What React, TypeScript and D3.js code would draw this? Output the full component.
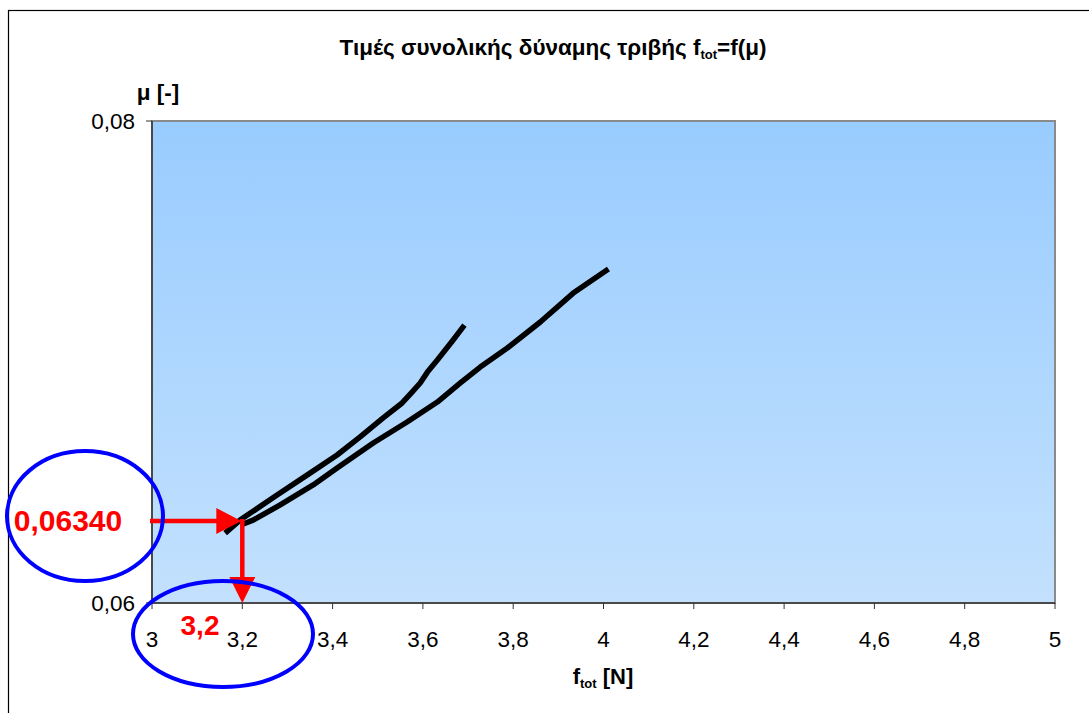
import React from "react";
import * as d3 from "d3";

// Friction force f_tot versus friction coefficient μ — two measured runs
const runA_f = [3.162, 3.195, 3.277, 3.35, 3.41, 3.461, 3.512, 3.554, 3.576, 3.594, 3.61, 3.632, 3.667, 3.692];
const runA_mu = [0.0629, 0.06344, 0.06448, 0.06539, 0.06614, 0.06689, 0.06768, 0.0683, 0.06875, 0.06913, 0.06958, 0.07008, 0.07091, 0.07153];

const runB_f = [3.202, 3.224, 3.284, 3.357, 3.41, 3.49, 3.565, 3.632, 3.683, 3.727, 3.787, 3.86, 3.933, 4.011];
const runB_mu = [0.06328, 0.06344, 0.06407, 0.0649, 0.0656, 0.06664, 0.06751, 0.06834, 0.06913, 0.06979, 0.07058, 0.07166, 0.07286, 0.07386];

const xTickValues = [3, 3.2, 3.4, 3.6, 3.8, 4, 4.2, 4.4, 4.6, 4.8, 5];
const yTickValues = [0.06, 0.08];

// Reading taken off the curve
const readF = 3.2;
const readMu = 0.0634;
const readFLabel = "3,2";
const readMuLabel = "0,06340";

const W = 1089;
const H = 713;
const plot = { left: 152, right: 1055, top: 121, bottom: 603 };

const greek = d3.formatLocale({ decimal: ",", thousands: ".", grouping: [3], currency: ["", "€"] });
const fmt = (v: number) => greek.format("~g")(v);

export default function App() {
  const x = d3.scaleLinear().domain([3, 5]).range([plot.left, plot.right]);
  const y = d3.scaleLinear().domain([0.06, 0.08]).range([plot.bottom, plot.top]);

  const line = d3
    .line<[number, number]>()
    .x((d) => x(d[0]))
    .y((d) => y(d[1]));

  const seriesA = runA_f.map((f, i) => [f, runA_mu[i]] as [number, number]);
  const seriesB = runB_f.map((f, i) => [f, runB_mu[i]] as [number, number]);

  const px = x(readF);
  const py = y(readMu);
  const head = 26;
  const font = "Arial, 'Liberation Sans', sans-serif";

  return (
    <svg
      width={W}
      height={H}
      style={{ position: "fixed", left: 0, top: 0, background: "#fff" }}
      fontFamily={font}
    >
      <defs>
        <linearGradient id="plotFill" x1="0" y1="0" x2="0" y2="1">
          <stop offset="0" stopColor="#99CCFF" />
          <stop offset="1" stopColor="#C3E1FE" />
        </linearGradient>
      </defs>

      {/* chart frame */}
      <rect x={8.5} y={10.5} width={W + 20} height={H + 20} fill="#fff" stroke="#000" strokeWidth={1.2} />

      {/* title */}
      <text x={553} y={55} textAnchor="middle" fontSize={22.5} fontWeight="bold" fill="#000">
        Τιμές συνολικής δύναμης τριβής f
        <tspan fontSize={13} dy={4}>tot</tspan>
        <tspan dy={-4}>=f(μ)</tspan>
      </text>

      {/* plot area */}
      <rect
        x={plot.left}
        y={plot.top}
        width={plot.right - plot.left}
        height={plot.bottom - plot.top}
        fill="url(#plotFill)"
        stroke="#8a8a8a"
        strokeWidth={2}
      />
      <line x1={plot.left} x2={plot.left} y1={plot.top} y2={plot.bottom} stroke="#333" strokeWidth={1.5} />
      <line x1={plot.left} x2={plot.right} y1={plot.bottom} y2={plot.bottom} stroke="#333" strokeWidth={1.5} />

      {/* x axis */}
      {xTickValues.map((t) => (
        <g key={"x" + t}>
          <line x1={x(t)} x2={x(t)} y1={plot.bottom} y2={plot.bottom + 6} stroke="#333" strokeWidth={1} />
          <text x={x(t)} y={647} textAnchor="middle" fontSize={22.5} fill="#000">
            {fmt(t)}
          </text>
        </g>
      ))}
      <text x={603} y={684} textAnchor="middle" fontSize={22} fontWeight="bold" fill="#000">
        f<tspan fontSize={13} dy={4}>tot</tspan>
        <tspan dy={-4}> [N]</tspan>
      </text>

      {/* y axis */}
      {yTickValues.map((t) => (
        <g key={"y" + t}>
          <line x1={plot.left - 6} x2={plot.left} y1={y(t)} y2={y(t)} stroke="#333" strokeWidth={1} />
          <text x={plot.left - 17} y={y(t) + 8} textAnchor="end" fontSize={22.5} fill="#000">
            {fmt(t)}
          </text>
        </g>
      ))}
      <text x={158} y={100} textAnchor="middle" fontSize={22.5} fontWeight="bold" fill="#000">
        μ [-]
      </text>

      {/* measured curves */}
      <path d={line(seriesA) || ""} fill="none" stroke="#000" strokeWidth={5.5} strokeLinejoin="round" />
      <path d={line(seriesB) || ""} fill="none" stroke="#000" strokeWidth={5.5} strokeLinejoin="round" />

      {/* reading arrows */}
      <line x1={x(3) - 2} x2={px - head + 2} y1={py} y2={py} stroke="#FF0000" strokeWidth={4.5} />
      <path d={`M${px - 1},${py} L${px - head},${py - 13} L${px - head},${py + 13} Z`} fill="#FF0000" />
      <line x1={px} x2={px} y1={py - 2} y2={plot.bottom - head + 2} stroke="#FF0000" strokeWidth={4.5} />
      <path
        d={`M${px},${plot.bottom} L${px - 13},${plot.bottom - head} L${px + 13},${plot.bottom - head} Z`}
        fill="#FF0000"
      />

      {/* highlighted readings */}
      <ellipse cx={85} cy={py - 5} rx={78} ry={65} fill="none" stroke="#0000FF" strokeWidth={4} />
      <text x={68} y={py + 10} textAnchor="middle" fontSize={30} fontWeight="bold" fill="#FF0000">
        {readMuLabel}
      </text>
      <ellipse cx={223} cy={634} rx={90} ry={53} fill="none" stroke="#0000FF" strokeWidth={4} />
      <text x={200} y={635} textAnchor="middle" fontSize={28} fontWeight="bold" fill="#FF0000">
        {readFLabel}
      </text>
    </svg>
  );
}
